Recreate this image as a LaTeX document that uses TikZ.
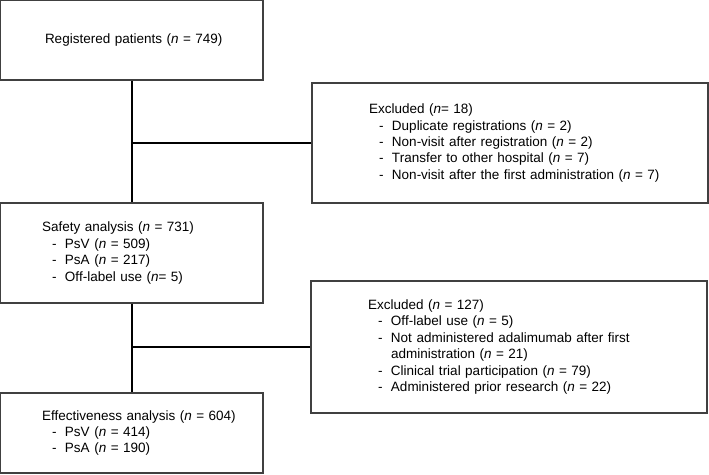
\documentclass[tikz,border=0pt]{standalone}
\usepackage{fontspec}
\setmainfont{Liberation Sans}
\usetikzlibrary{calc}
\definecolor{BoxLine}{RGB}{64,64,64}
\newcommand{\itemdash}{\hspace*{10pt}\makebox[13pt][l]{-}}
\newcommand{\itemcont}{\hspace*{23pt}}

\begin{document}
\begin{tikzpicture}[
    x=1pt, y=-1pt,
    font=\fontsize{13.5}{16.4}\selectfont,
    flowbox/.style={draw=BoxLine, line width=1.1pt, align=left, inner sep=0pt},
    leftbox/.style={flowbox, minimum width=263pt, text width=179pt},
    exbox/.style={flowbox, minimum width=396pt, text width=282pt},
    link/.style={line width=2pt, black},
]
  \useasboundingbox (0,0) rectangle (709,474);

  % ---- main column ----
  \node[leftbox, minimum height=80pt, text width=173pt] (reg) at (131.5,40)
    {\mbox{Registered patients (\textit{n} = 749)}};

  \node[leftbox, minimum height=100pt] (safe) at (131.5,253)
    {\mbox{Safety analysis (\textit{n} = 731)}\\
     \itemdash PsV (\textit{n} = 509)\\
     \itemdash PsA (\textit{n} = 217)\\
     \itemdash Off-label use (\textit{n}= 5)};

  \node[leftbox, minimum height=80pt] (eff) at (131.5,433)
    {\mbox{Effectiveness analysis (\textit{n} = 604)}\\
     \itemdash PsV (\textit{n} = 414)\\
     \itemdash PsA (\textit{n} = 190)};

  % ---- exclusions ----
  \node[exbox, minimum height=120pt] (excl1) at (510,143)
    {Excluded (\textit{n}= 18)\\
     \itemdash Duplicate registrations (\textit{n} = 2)\\
     \itemdash Non-visit after registration (\textit{n} = 2)\\
     \itemdash Transfer to other hospital (\textit{n} = 7)\\
     \itemdash \mbox{Non-visit after the first administration (\textit{n} = 7)}};

  \node[exbox, minimum height=132pt] (excl2) at (509,347)
    {Excluded (\textit{n} = 127)\\
     \itemdash Off-label use (\textit{n} = 5)\\
     \itemdash \mbox{Not administered adalimumab after first}\\
     \itemcont administration (\textit{n} = 21)\\
     \itemdash \mbox{Clinical trial participation (\textit{n} = 79)}\\
     \itemdash \mbox{Administered prior research (\textit{n} = 22)}};

  % Connectors
  \draw[link] (reg.south) -- (safe.north);
  \draw[link] (excl1.west) -- (excl1.west -| reg.south);
  \draw[link] (safe.south) -- (eff.north);
  \draw[link] (excl2.west) -- (excl2.west -| safe.south);
\end{tikzpicture}
\end{document}
